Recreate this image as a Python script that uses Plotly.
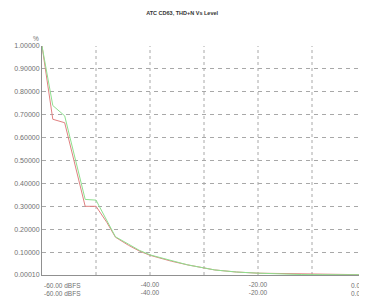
import plotly.graph_objects as go

levels_db = [-60, -58, -55.8, -52, -50, -48, -46.4, -44, -42, -40, -36, -33, -28, -24, -20, -16, -12, -8, -4, 0]
red_vals = [1.0, 0.68, 0.665, 0.30, 0.30, 0.23, 0.165, 0.13, 0.105, 0.086, 0.06, 0.044, 0.022, 0.013, 0.008, 0.006, 0.004, 0.002, 0.0015, 0.001]
green_vals = [1.0, 0.74, 0.695, 0.33, 0.327, 0.24, 0.167, 0.135, 0.108, 0.088, 0.062, 0.044, 0.022, 0.013, 0.008, 0.004, 0.002, 0.0015, 0.001, 0.001]

y_ticks = [0.0001, 0.1, 0.2, 0.3, 0.4, 0.5, 0.6, 0.7, 0.8, 0.9, 1.0]
y_ticktext = ["0.00010", "0.10000", "0.20000", "0.30000", "0.40000", "0.50000",
              "0.60000", "0.70000", "0.80000", "0.90000", "1.00000"]
x_ticks = [-40, -20]
x_ticktext = ["-40.00<br>-40.00", "-20.00<br>-20.00"]
first_label = "-60.00 dBFS<br>-60.00 dBFS"
last_label = "0.00<br>0.00"
title_text = "ATC CD63, THD+N Vs Level"

fig = go.Figure()
fig.add_trace(go.Scatter(x=levels_db, y=red_vals, mode="lines",
                         line=dict(color="#e08080", width=1), showlegend=False))
fig.add_trace(go.Scatter(x=levels_db, y=green_vals, mode="lines",
                         line=dict(color="#8ee08e", width=1), showlegend=False))

# vertical dashed grid lines every 10 dB
for gx in [-50, -40, -30, -20, -10]:
    fig.add_shape(type="line", xref="x", yref="paper", x0=gx, x1=gx, y0=0, y1=1,
                  line=dict(color="#a8a8a8", width=1, dash="3px,3px"), layer="below")

lab_font = dict(size=6.5, color="#707070")
fig.update_layout(
    width=359, height=294,
    margin=dict(l=34, r=1, t=38, b=27),
    paper_bgcolor="white", plot_bgcolor="white",
    font=dict(family="Liberation Sans, Arial, sans-serif", color="#707070", size=7),
    title=dict(text="<b>" + title_text + "</b>", xref="container", x=0.485, xanchor="center",
               y=0.99, yanchor="top", font=dict(size=5.5, color="#333333")),
    xaxis=dict(range=[-60, 0], tickvals=x_ticks, ticktext=x_ticktext,
               showgrid=False, zeroline=False, showline=True, linecolor="#909090",
               ticks="", ticklabelstandoff=3, tickfont=lab_font),
    yaxis=dict(range=[0, 1], tickvals=y_ticks, ticktext=y_ticktext,
               showgrid=True, gridcolor="#a8a8a8", griddash="4px,4px", gridwidth=1,
               zeroline=False, showline=True, linecolor="#909090",
               ticks="", tickfont=dict(size=7, color="#707070")),
    annotations=[
        dict(text="%", xref="paper", yref="paper", x=0.0, y=1.0, xanchor="center",
             yanchor="bottom", xshift=-6, yshift=2, showarrow=False, font=lab_font),
        dict(text=first_label, xref="x", yref="paper", x=-60, y=0, xanchor="left",
             yanchor="top", yshift=-5, align="left", showarrow=False, font=lab_font),
        dict(text=last_label, xref="x", yref="paper", x=0, y=0, xanchor="right",
             yanchor="top", yshift=-5, xshift=0, align="right", showarrow=False, font=lab_font),
    ],
)

fig.write_html("out.html")
